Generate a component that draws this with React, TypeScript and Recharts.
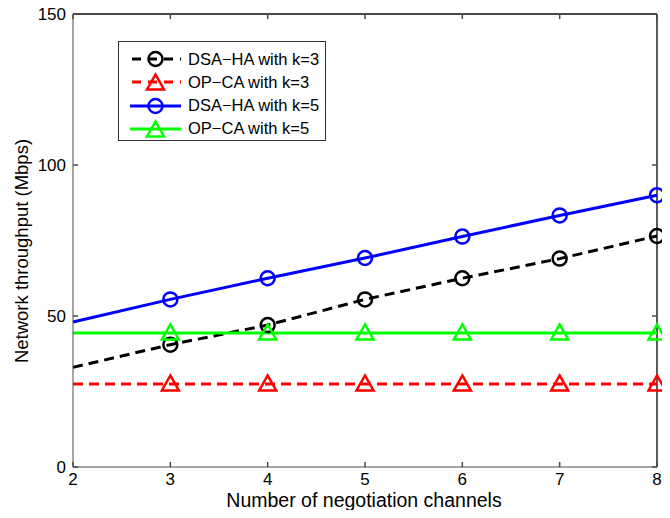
import React from 'react';
import { LineChart, Line, XAxis, YAxis, ReferenceLine, ReferenceDot } from 'recharts';

const channels = [2, 3, 4, 5, 6, 7, 8];
const dsaHaK3 = [33, 40.5, 47, 55.5, 62.5, 69, 76.5];
const opCaK3 = [27.5, 27.5, 27.5, 27.5, 27.5, 27.5, 27.5];
const dsaHaK5 = [48, 55.5, 62.5, 69.2, 76.3, 83.3, 90];
const opCaK5 = [44.4, 44.4, 44.4, 44.4, 44.4, 44.4, 44.4];
const xTicks = [2, 3, 4, 5, 6, 7, 8];
const yTicks = [0, 50, 100, 150];

const series = [
  { key: 'dsa3', name: 'DSA\u2212HA with k=3', color: '#000000', dash: '10 6', marker: 'circle', values: dsaHaK3 },
  { key: 'op3', name: 'OP\u2212CA with k=3', color: '#ff0000', dash: '10 6', marker: 'triangle', values: opCaK3 },
  { key: 'dsa5', name: 'DSA\u2212HA with k=5', color: '#0000ff', dash: undefined, marker: 'circle', values: dsaHaK5 },
  { key: 'op5', name: 'OP\u2212CA with k=5', color: '#00ff00', dash: undefined, marker: 'triangle', values: opCaK5 },
];

const chartData = channels.map((c, i) => {
  const row: any = { channels: c };
  series.forEach(s => { row[s.key] = s.values[i]; });
  return row;
});

const FONT = '"Liberation Sans", Arial, Helvetica, sans-serif';
const AXIS = '#4a4a4a';
const TICK_LEN = 5;
const X_MIN = 2, X_MAX = 8, Y_MIN = 0, Y_MAX = 150;

const Marker = ({ shape, color, cx, cy }: any) =>
  shape === 'circle' ? (
    <circle cx={cx} cy={cy} r={7} fill="none" stroke={color} strokeWidth={2.5} />
  ) : (
    <path
      d={`M${cx},${cy - 8.5} L${cx + 8.5},${cy + 6.5} L${cx - 8.5},${cy + 6.5} Z`}
      fill="none"
      stroke={color}
      strokeWidth={2.5}
    />
  );

// inward tick marks (MATLAB style) on all four sides: [x, y, dx, dy]
type TickMark = [number, number, number, number];
const tickMarks: TickMark[] = [
  ...xTicks.map(t => [t, Y_MIN, 0, -TICK_LEN] as TickMark),
  ...xTicks.map(t => [t, Y_MAX, 0, TICK_LEN] as TickMark),
  ...yTicks.map(t => [X_MIN, t, TICK_LEN, 0] as TickMark),
  ...yTicks.map(t => [X_MAX, t, -TICK_LEN, 0] as TickMark),
];

const LegendBox = () => (
  <div
    style={{
      position: 'absolute', left: 118, top: 41, width: 206, height: 98,
      border: '1px solid #333', background: '#fff', fontFamily: FONT, fontSize: 16.5,
    }}
  >
    {series.map((s, i) => (
      <div key={s.key} style={{ position: 'absolute', left: 0, top: 6 + i * 23.3, height: 22, display: 'flex', alignItems: 'center' }}>
        <svg width={66} height={22} style={{ display: 'block' }}>
          <line x1={11} y1={11} x2={62} y2={11} stroke={s.color} strokeWidth={3} strokeDasharray={s.dash ? '9 7' : undefined} strokeDashoffset={s.dash ? -2 : 0} />
          <Marker shape={s.marker} color={s.color} cx={36.5} cy={s.marker === 'circle' ? 11 : 12} />
        </svg>
        <span style={{ marginLeft: 3, color: '#000', whiteSpace: 'nowrap' }}>{s.name}</span>
      </div>
    ))}
  </div>
);

const App: React.FC = () => (
  <div style={{ margin: -8, position: 'relative', width: 670, height: 518, background: '#fff' }}>
    <LineChart
      width={670}
      height={518}
      data={chartData}
      margin={{ top: 14, right: 13, bottom: 0, left: 0 }}
      style={{ fontFamily: FONT }}
    >
      <XAxis
        dataKey="channels"
        type="number"
        domain={[X_MIN, X_MAX]}
        ticks={xTicks}
        height={51}
        stroke={AXIS}
        tickLine={false}
        tickSize={0}
        tickMargin={6}
        tick={{ fill: '#000', fontSize: 17 }}
        label={{
          content: () => (
            <text x={364} y={507} textAnchor="middle" fontSize={19.5} fill="#000" fontFamily={FONT}>
              Number of negotiation channels
            </text>
          ),
        }}
      />
      <YAxis
        type="number"
        domain={[Y_MIN, Y_MAX]}
        ticks={yTicks}
        width={73}
        stroke={AXIS}
        tickLine={false}
        tickSize={0}
        tickMargin={7}
        tick={{ fill: '#000', fontSize: 17 }}
        label={{
          content: () => (
            <text
              x={21}
              y={251}
              transform="rotate(-90, 21, 251)"
              textAnchor="middle"
              dominantBaseline="central"
              fontSize={18.5}
              fill="#000"
              fontFamily={FONT}
            >
              Network throughput (Mbps)
            </text>
          ),
        }}
      />
      {/* top and right edges of the box */}
      <ReferenceLine y={Y_MAX} stroke={AXIS} strokeWidth={1.8} ifOverflow="visible" />
      <ReferenceLine x={X_MAX} stroke={AXIS} strokeWidth={1.8} ifOverflow="visible" />
      {tickMarks.map(([x, y, dx, dy], i) => (
        <ReferenceDot
          key={`tick-${i}`}
          x={x}
          y={y}
          r={1}
          ifOverflow="visible"
          shape={(p: any) => (
            <line x1={p.cx} y1={p.cy} x2={p.cx + dx} y2={p.cy + dy} stroke={AXIS} strokeWidth={1.5} />
          )}
        />
      ))}
      {series.map(s => (
        <Line
          key={s.key}
          dataKey={s.key}
          name={s.name}
          type="linear"
          stroke={s.color}
          strokeWidth={3}
          strokeDasharray={s.dash}
          isAnimationActive={false}
          dot={(p: any) =>
            p.index === 0 ? (
              <g key={`${s.key}-${p.index}`} />
            ) : (
              <Marker key={`${s.key}-${p.index}`} shape={s.marker} color={s.color} cx={p.cx} cy={p.cy} />
            )
          }
          activeDot={false}
        />
      ))}
    </LineChart>
    <LegendBox />
  </div>
);

export default App;
